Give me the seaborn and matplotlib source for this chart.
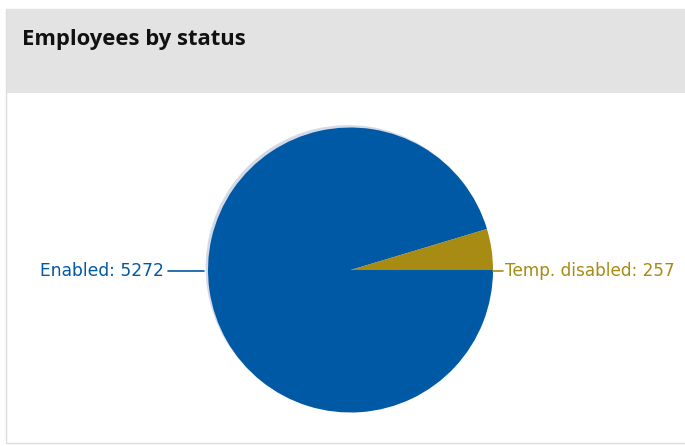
import matplotlib
matplotlib.use("Agg")
import matplotlib.pyplot as plt
import matplotlib.patches as mpatches
import seaborn as sns

# ---- data ----
title = "Employees by status"
categories = ["Enabled", "Temp. disabled"]
counts = [5272, 257]
colors = ["#0059A5", "#A88B12"]

sns.set_style("white")
plt.rcParams['font.family'] = ['DejaVu Sans']

W, H = 685, 446
fig = plt.figure(figsize=(W / 100, H / 100), dpi=100)
fig.patch.set_facecolor("white")

def px_rect(x0, y0, x1, y1):
    # convert pixel box (top-left origin) to figure fraction
    return (x0 / W, 1 - y1 / H, (x1 - x0) / W, (y1 - y0) / H)

# panel border
bx, by, bw, bh = px_rect(6, 9, 690, 443)
fig.patches.append(mpatches.Rectangle((bx, by), bw, bh, transform=fig.transFigure,
                                      facecolor="white", edgecolor="#DDDDDD", linewidth=1.0,
                                      zorder=-2))
# header band
hx, hy, hw, hh = px_rect(7, 9, 690, 93)
fig.patches.append(mpatches.Rectangle((hx, hy), hw, hh, transform=fig.transFigure,
                                      facecolor="#E3E3E3", edgecolor="none", zorder=-1))
fig.text(22 / W, 1 - 39 / H, title, fontsize=15.8, fontweight="bold",
         color="#111111", va="center", ha="left", family=["Open Sans", "DejaVu Sans"])

# pie axes
cx, cy, r = 350.5, 270.0, 142.5
half = 1.05 * r
ax = fig.add_axes(px_rect(cx - half, cy - half, cx + half, cy + half))
ax.set_zorder(5)
ax.patch.set_alpha(0)

wedges, _ = ax.pie(counts, colors=colors, startangle=0, counterclock=False,
                   radius=1.0, center=(0, 0),
                   wedgeprops=dict(linewidth=0),
                   shadow=dict(ox=-0.012, oy=0.012, facecolor="#D3D9E6", alpha=1.0))
ax.set_xlim(-1.05, 1.05)
ax.set_ylim(-1.05, 1.05)
ax.axis("off")

# labels with leader lines (pixel-based offsets converted to data units)
def d(px):
    return px / r

# Enabled label
ax.plot([d(168 - cx), d(204 - cx)], [d(cy - 271)] * 2, color=colors[0], lw=1.2, clip_on=False)
ax.text(d(164 - cx), d(cy - 271), f"{categories[0]}: {counts[0]}", color=colors[0],
        fontsize=12.3, ha="right", va="center", clip_on=False)
# Temp. disabled label
ax.plot([d(493 - cx), d(503 - cx)], [d(cy - 271)] * 2, color=colors[1], lw=1.2, clip_on=False)
ax.text(d(505 - cx), d(cy - 271), f"{categories[1]}: {counts[1]}", color=colors[1],
        fontsize=12.2, ha="left", va="center", clip_on=False)

fig.savefig("out.png", dpi=100)
